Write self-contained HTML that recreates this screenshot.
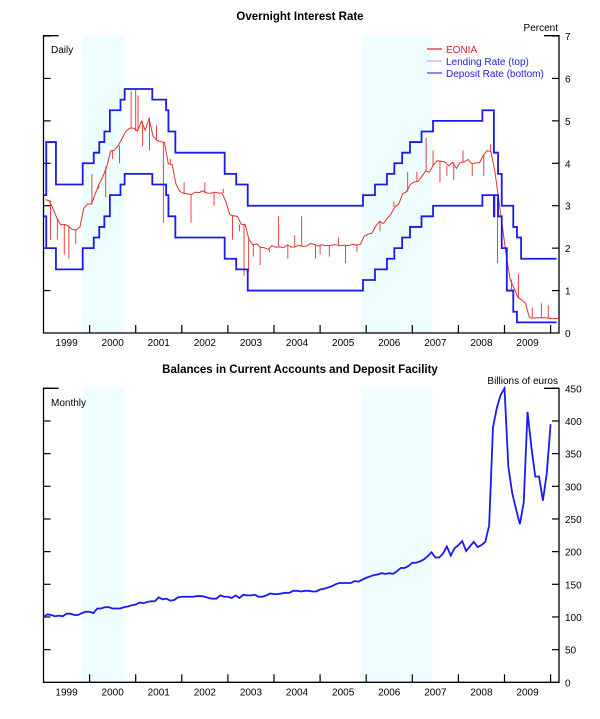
<!DOCTYPE html>
<html><head><meta charset="utf-8"><style>
body{margin:0;background:#fff;}
svg text{font-family:"Liberation Sans",Arial,sans-serif;}
</style></head><body>
<svg id="c" width="600" height="714" viewBox="0 0 600 714" xmlns="http://www.w3.org/2000/svg">
<text x="300" y="20" text-anchor="middle" font-size="11.5" font-weight="bold">Overnight Interest Rate</text>
<text x="300" y="373" text-anchor="middle" font-size="11.5" font-weight="bold">Balances in Current Accounts and Deposit Facility</text>
<text x="558" y="31" text-anchor="end" font-size="10">Percent</text>
<text x="558" y="384" text-anchor="end" font-size="10">Billions of euros</text>
<g id="top"></g>
<g id="bot"></g>
<text x="51" y="53" font-size="10">Daily</text>
<text x="51" y="406" font-size="10">Monthly</text>
<g>
<line x1="427" y1="49" x2="442" y2="49" stroke="#e02020" stroke-width="1.2"/>
<text x="446" y="53" font-size="10" fill="#e02020">EONIA</text>
<line x1="427" y1="61" x2="442" y2="61" stroke="#b0b0ff" stroke-width="1.2"/>
<text x="446" y="65" font-size="10" fill="#2020e0">Lending Rate (top)</text>
<line x1="427" y1="73" x2="442" y2="73" stroke="#4040e0" stroke-width="1.2"/>
<text x="446" y="77" font-size="10" fill="#2020e0">Deposit Rate (bottom)</text>
</g>
</svg>
<script>
const shadeStart=[1999.84,2005.9];
const shadeEnd=[2000.75,2007.43];
const years=[1999,2000,2001,2002,2003,2004,2005,2006,2007,2008,2009];
const topTicks=[0,1,2,3,4,5,6,7];
const botTicks=[0,50,100,150,200,250,300,350,400,450];
const lendDates=[1999.0,1999.06,1999.27,1999.85,2000.09,2000.21,2000.32,2000.44,2000.67,2000.76,2001.36,2001.66,2001.71,2001.86,2002.93,2003.18,2003.43,2005.93,2006.19,2006.45,2006.61,2006.78,2006.95,2007.2,2007.45,2008.52,2008.77,2008.77,2008.86,2008.94,2009.05,2009.19,2009.27,2009.36];
const lendRates=[3.25,4.5,3.5,4.0,4.25,4.5,4.75,5.25,5.5,5.75,5.5,5.25,4.75,4.25,3.75,3.5,3.0,3.25,3.5,3.75,4.0,4.25,4.5,4.75,5.0,5.25,4.75,4.25,3.75,3.0,3.0,2.5,2.25,1.75];
const depDates=[1999.0,1999.06,1999.27,1999.85,2000.09,2000.21,2000.32,2000.44,2000.67,2000.76,2001.36,2001.66,2001.71,2001.86,2002.93,2003.18,2003.43,2005.93,2006.19,2006.45,2006.61,2006.78,2006.95,2007.2,2007.45,2008.52,2008.77,2008.78,2008.86,2008.94,2009.05,2009.19,2009.27,2009.36];
const depRates=[2.75,2.0,1.5,2.0,2.25,2.5,2.75,3.25,3.5,3.75,3.5,3.25,2.75,2.25,1.75,1.5,1.0,1.25,1.5,1.75,2.0,2.25,2.5,2.75,3.0,3.25,2.75,3.25,2.75,2.0,1.0,0.5,0.25,0.25];
const eonia=[3.14,3.12,2.93,2.71,2.55,2.56,2.52,2.44,2.43,2.50,2.94,3.04,
3.04,3.28,3.51,3.69,3.92,4.29,4.31,4.42,4.59,4.76,4.83,4.83,
4.76,4.99,4.78,5.06,4.65,4.54,4.51,4.49,3.99,3.97,3.51,3.34,
3.29,3.28,3.26,3.32,3.31,3.35,3.30,3.29,3.32,3.30,3.30,3.09,
2.79,2.76,2.75,2.56,2.56,2.21,2.08,2.10,2.02,2.01,1.97,2.06,
2.02,2.03,2.01,2.08,2.02,2.03,2.07,2.04,2.05,2.11,2.09,2.05,
2.08,2.06,2.06,2.08,2.07,2.06,2.07,2.06,2.09,2.07,2.09,2.28,
2.33,2.35,2.52,2.63,2.58,2.70,2.81,2.97,3.04,3.28,3.33,3.50,
3.56,3.57,3.69,3.82,3.79,3.96,4.06,4.05,4.03,3.94,4.02,3.88,
4.02,4.03,4.09,3.99,4.01,4.01,4.19,4.30,4.27,3.82,3.15,2.49,
1.81,1.26,1.06,0.84,0.78,0.70,0.36,0.35,0.36,0.36,0.36,0.35,
0.34,0.34,0.35];
const spikeDates=[2000.9,2001.0,2001.05,1999.45,1999.55,2002.2,2003.1,2003.35,2003.45,2004.1,2004.6,2005.55,2006.6,2007.3,2008.85,2009.3,2009.8,2001.6,2000.05,2007.6,2008.3,1999.3,2000.5,2001.3,2002.5,2003.7,2004.9,2005.2,2007.9,2009.95,
1999.15,1999.7,2000.2,2000.35,2000.65,2001.15,2001.45,2001.75,2002.05,2002.7,2002.9,2003.25,2003.55,2003.9,2004.3,2004.45,2005.0,2005.4,2005.8,2006.3,2006.9,2007.1,2007.45,2007.75,2008.1,2008.55,2008.7,2009.05,2009.15,2009.6];
const spikeValues=[5.7,5.75,5.6,1.85,1.75,2.6,2.2,1.35,1.45,2.75,2.75,1.65,3.1,4.6,1.65,1.4,0.7,2.6,3.75,3.55,3.7,2.2,4.1,4.3,3.55,1.6,1.75,1.8,3.6,0.65,
2.2,2.1,3.4,3.2,4.0,4.4,4.9,4.1,3.55,3.0,3.4,2.4,1.8,1.9,1.75,2.3,1.85,2.25,1.9,2.4,3.8,3.8,4.3,3.7,4.3,3.7,4.45,1.5,1.0,0.6];
const balances=[100,104,103,101,102,101,105,105,103,103,106,108,
108,106,113,113,115,115,113,113,113,115,116,118,
119,122,121,123,124,124,130,127,128,125,126,130,
131,131,131,131,132,132,131,129,128,128,133,131,
131,129,133,129,134,133,133,134,131,131,133,136,
135,135,136,137,137,140,140,139,140,140,139,139,
142,143,145,147,150,152,152,152,152,155,154,157,
160,162,164,165,167,166,167,166,170,175,175,178,
183,183,185,188,193,199,191,191,197,208,194,205,
210,216,201,208,215,207,210,215,240,390,420,440,
450,330,290,265,242,275,414,360,315,315,278,320,
395];

const NS="http://www.w3.org/2000/svg";
const L=43.5,R=559,PX=46.1,T0=1999.0,TEND=2010.13;
const x=t=>L+(t-T0)*PX;
const yTop=v=>333-v*(297/7);
const yBot=v=>682.3-v*(294/450);
function mk(tag,attrs,parent){const e=document.createElementNS(NS,tag);for(const k in attrs)e.setAttribute(k,attrs[k]);parent.appendChild(e);return e;}

function frame(g,yf,ticks,top,bottom,prefix){
  for(let i=0;i<shadeStart.length;i++){
    const r=mk('rect',{x:x(shadeStart[i]),y:top,width:x(shadeEnd[i])-x(shadeStart[i]),height:bottom-top,fill:'#eefeff'},g);
    
    
  }
  const ax=mk('path',{d:`M${L+15},${top}H${L}V${bottom}H${R}V${top}H${R-15}`,fill:'none',stroke:'#000','stroke-width':1.3},g);
  
  
  ticks.forEach(v=>{
    const yy=yf(v);
    if(v>0){
      mk('line',{x1:L,y1:yy,x2:L+7,y2:yy,stroke:'#000','stroke-width':1.2},g);
      mk('line',{x1:R-7,y1:yy,x2:R,y2:yy,stroke:'#000','stroke-width':1.2},g);
    }
    const t=mk('text',{x:565,y:yy+4,'font-size':10},g);
    t.textContent=v;
    
    
  });
  years.forEach(yr=>{
    if(yr>1999) mk('line',{x1:x(yr),y1:bottom,x2:x(yr),y2:bottom-8,stroke:'#000','stroke-width':1.2},g);
    const t=mk('text',{x:x(yr+0.5),y:bottom+13,'font-size':10,'text-anchor':'middle'},g);
    t.textContent=yr;
    
    
  });
  mk('line',{x1:x(2010),y1:bottom,x2:x(2010),y2:bottom-8,stroke:'#000','stroke-width':1.2},g);
}
function stepPath(dates,rates){
  let d=`M${x(dates[0])},${yTop(rates[0])}`;
  for(let i=1;i<dates.length;i++){d+=`H${x(dates[i])}V${yTop(rates[i])}`;}
  return d+`H${x(TEND)}`;
}
const gt=document.getElementById('top'),gb=document.getElementById('bot');
frame(gt,yTop,topTicks,35.7,333,'top');
frame(gb,yBot,botTicks,388.3,682.3,'bottom');

let ed='';
eonia.forEach((v,i)=>{const t=T0+i/12+0.04;ed+=(i?'L':'M')+x(t)+','+yTop(v);});
const ep=mk('path',{d:ed,fill:'none',stroke:'#e03030','stroke-width':1},gt);


spikeDates.forEach((t,i)=>{
  const idx=Math.min(eonia.length-1,Math.max(0,Math.round((t-T0-0.04)*12)));
  const s=mk('line',{x1:x(t),y1:yTop(eonia[idx]),x2:x(t),y2:yTop(spikeValues[i]),stroke:'#e03030','stroke-width':0.9},gt);
  
  
});
const lp=mk('path',{d:stepPath(lendDates,lendRates),fill:'none',stroke:'#1a1aee','stroke-width':1.8},gt);


const dp=mk('path',{d:stepPath(depDates,depRates),fill:'none',stroke:'#1a1aee','stroke-width':1.8},gt);



let bd='';
balances.forEach((v,i)=>{const t=T0+i/12;bd+=(i?'L':'M')+x(t)+','+yBot(v);});
const bp=mk('path',{d:bd,fill:'none',stroke:'#1a1aee','stroke-width':1.8},gb);


</script>
</body></html>
